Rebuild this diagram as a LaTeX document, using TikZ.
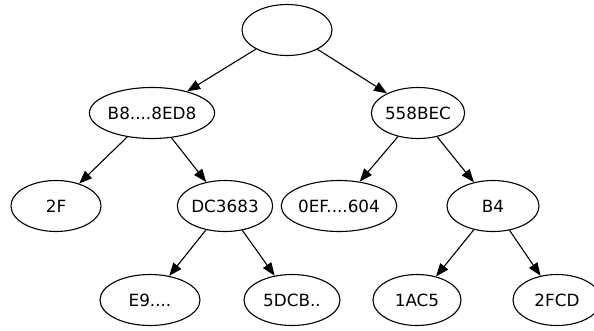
\documentclass[tikz,border=0pt]{standalone}
\usepackage{fontspec}
\setmainfont{DejaVu Sans}
\usetikzlibrary{shapes.geometric,arrows.meta}
\tikzset{
  tnode/.style={draw=black, line width=1.1pt, ellipse, inner sep=0pt, minimum height=51pt, minimum width=90pt, font=\fontsize{16.8}{20}\selectfont},
  tedge/.style={draw=black, line width=1.1pt, -{Triangle[length=13pt,width=10pt]}}
}
\begin{document}
\begin{tikzpicture}[x=1pt,y=-1pt]
\useasboundingbox (0,0) rectangle (594,330);
\node[tnode] (r) at (287,30) {};
\node[tnode, minimum width=106pt] (b8) at (152,113) {B8....8ED8};
\node[tnode, minimum width=92pt] (s5) at (418,113) {558BEC};
\node[tnode] (f2) at (56,206) {2F};
\node[tnode] (dc) at (225,206) {DC3683};
\node[tnode, minimum width=104pt] (ef) at (339,206) {0EF....604};
\node[tnode, minimum width=92pt] (b4) at (493,206) {B4};
\node[tnode, minimum width=100pt] (e9) at (150,300) {E9....};
\node[tnode, minimum width=96pt] (d5) at (292,300) {5DCB..};
\node[tnode, minimum width=88pt] (ac) at (417,300) {1AC5};
\node[tnode, minimum width=88pt] (fc) at (557,300) {2FCD};
\draw[tedge] (r) -- (b8);
\draw[tedge] (r) -- (s5);
\draw[tedge] (b8) -- (f2);
\draw[tedge] (b8) -- (dc);
\draw[tedge] (s5) -- (ef);
\draw[tedge] (s5) -- (b4);
\draw[tedge] (dc) -- (e9);
\draw[tedge] (dc) -- (d5);
\draw[tedge] (b4) -- (ac);
\draw[tedge] (b4) -- (fc);
\end{tikzpicture}
\end{document}
